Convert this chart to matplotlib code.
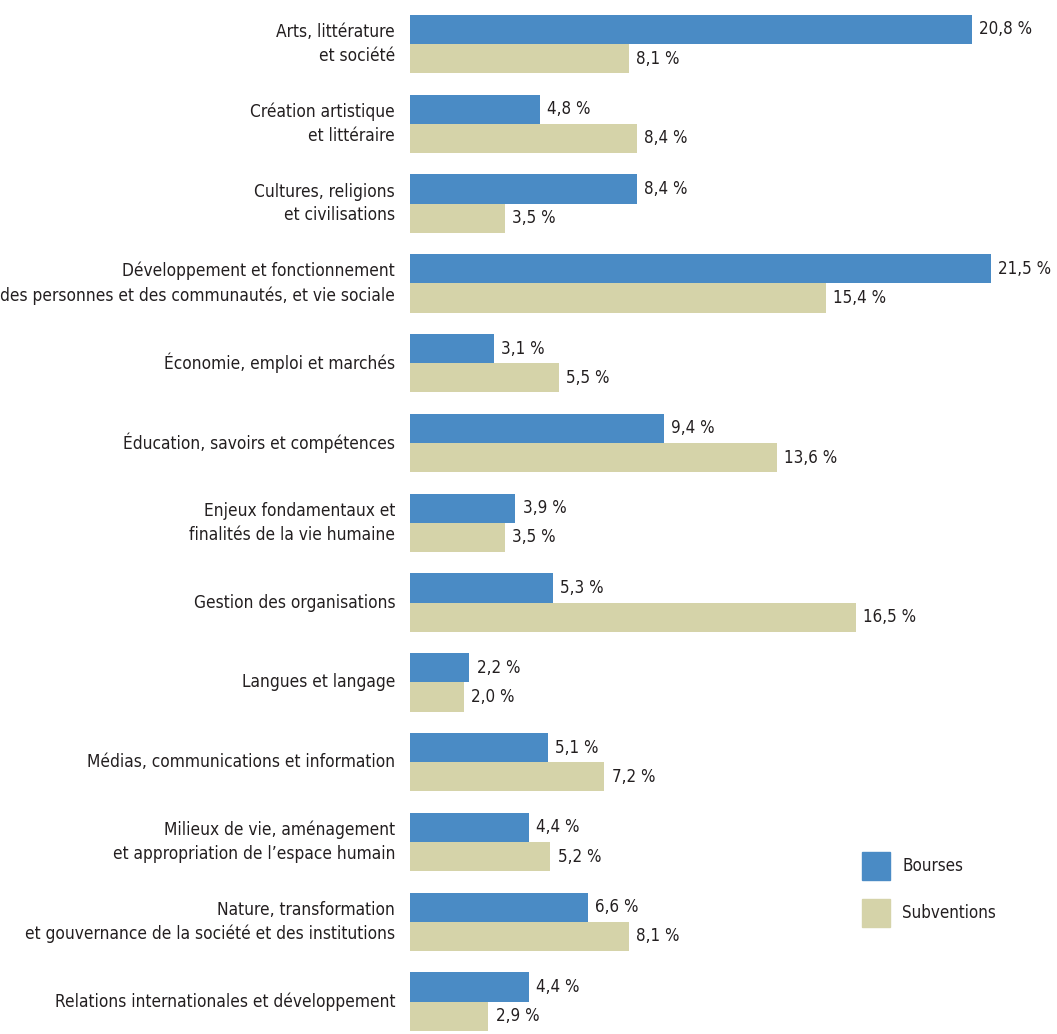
import matplotlib
matplotlib.use("Agg")
import matplotlib.pyplot as plt
import numpy as np

plt.rcParams['font.family'] = ['DejaVu Sans']
plt.rcParams['font.stretch'] = 'condensed'

categories = [
    "Arts, littérature\net société",
    "Création artistique\net littéraire",
    "Cultures, religions\net civilisations",
    "Développement et fonctionnement\ndes personnes et des communautés, et vie sociale",
    "Économie, emploi et marchés",
    "Éducation, savoirs et compétences",
    "Enjeux fondamentaux et\nfinalités de la vie humaine",
    "Gestion des organisations",
    "Langues et langage",
    "Médias, communications et information",
    "Milieux de vie, aménagement\net appropriation de l’espace humain",
    "Nature, transformation\net gouvernance de la société et des institutions",
    "Relations internationales et développement",
]
bourses = [20.8, 4.8, 8.4, 21.5, 3.1, 9.4, 3.9, 5.3, 2.2, 5.1, 4.4, 6.6, 4.4]
subventions = [8.1, 8.4, 3.5, 15.4, 5.5, 13.6, 3.5, 16.5, 2.0, 7.2, 5.2, 8.1, 2.9]

blue = "#4a8bc5"
beige = "#d5d3a9"
txt = "#231f20"

W, H = 1057, 1034
fig = plt.figure(figsize=(W / 100, H / 100), dpi=100)
pitch = 79.8
top_px = 44 - pitch / 2
ax = fig.add_axes([410 / W, 1 - (top_px + 13 * pitch) / H, (W - 410) / W, 13 * pitch / H])

y = np.arange(len(categories))
bh = 0.365
b1 = ax.barh(y - bh / 2, bourses, height=bh, color=blue, edgecolor="none")
b2 = ax.barh(y + bh / 2, subventions, height=bh, color=beige, edgecolor="none")

ax.set_xlim(0, (W - 410) / 27)
ax.set_ylim(len(categories) - 0.5, -0.5)

for bars, vals in [(b1, bourses), (b2, subventions)]:
    for bar, v in zip(bars, vals):
        ax.text(bar.get_width() + 0.27, bar.get_y() + bar.get_height() / 2,
                f"{v:.1f} %".replace(".", ","), ha="left", va="center",
                fontsize=12.2, color=txt)

for yi, cat in zip(y, categories):
    ax.text(-0.55, yi, cat, ha="right", va="center", fontsize=12.4,
            color=txt, linespacing=1.4)

ax.axis("off")

# legende
lx = 862 / W
fig.patches.append(plt.Rectangle((lx, 1 - 880 / H), 28 / W, 28 / H,
                                 transform=fig.transFigure, color=blue))
fig.patches.append(plt.Rectangle((lx, 1 - 927 / H), 28 / W, 28 / H,
                                 transform=fig.transFigure, color=beige))
fig.text(902 / W, 1 - 866 / H, "Bourses", ha="left", va="center", fontsize=12.2, color=txt)
fig.text(902 / W, 1 - 913 / H, "Subventions", ha="left", va="center", fontsize=12.2, color=txt)

fig.savefig("out.png", dpi=100)
